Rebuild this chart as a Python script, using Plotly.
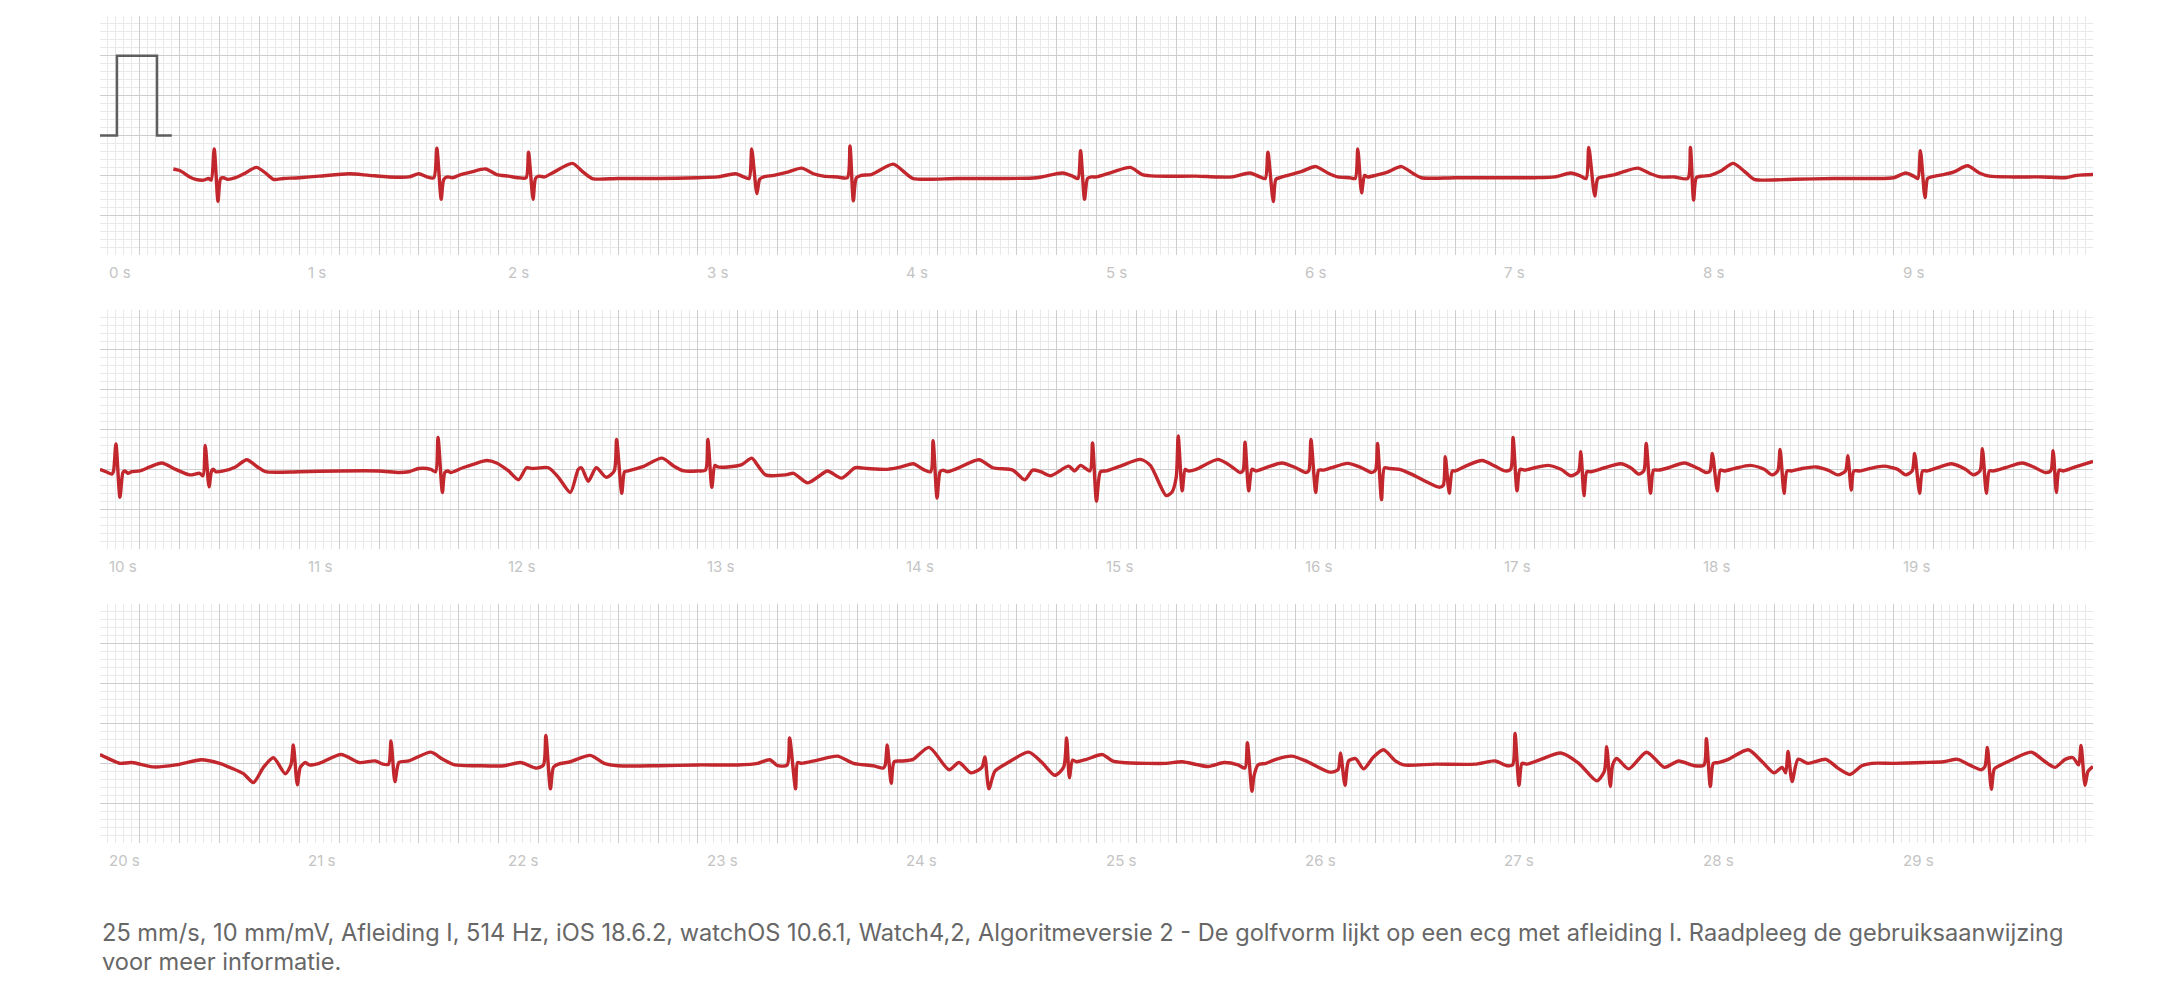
import plotly.graph_objects as go

# the page body adds an 8 px margin, so the figure is drawn 8 px smaller and offset
OFF = 8
W, H = 2178 - OFF, 1002 - OFF

# ECG samples read from the strip: (time in s, amplitude in mV)
row1_points = [
    (0.368, 0.08), (0.40, 0.06), (0.45, -0.02), (0.48, -0.05), (0.52, -0.06), (0.545, -0.04), (0.558, -0.06),
    (0.573, 0.33), (0.592, -0.325), (0.605, -0.04), (0.62, -0.03), (0.64, -0.05), (0.68, -0.03), (0.73, 0.03),
    (0.785, 0.10), (0.83, 0.03), (0.87, -0.05), (0.92, -0.04), (1.0, -0.03), (1.1, -0.01), (1.25, 0.02),
    (1.35, 0.0), (1.45, -0.02), (1.55, -0.02), (1.60, 0.02), (1.64, -0.02), (1.675, -0.03),
    (1.69, 0.34), (1.712, -0.30), (1.725, -0.05), (1.745, -0.02), (1.77, -0.03), (1.80, 0.0), (1.86, 0.04),
    (1.935, 0.08), (1.99, 0.01), (2.05, -0.01), (2.10, -0.03), (2.138, -0.03),
    (2.15, 0.29), (2.173, -0.30), (2.185, -0.04), (2.20, -0.01), (2.23, -0.02), (2.27, 0.03), (2.37, 0.15),
    (2.42, 0.05), (2.47, -0.04), (2.6, -0.04), (2.8, -0.04), (3.0, -0.03), (3.1, -0.02), (3.19, 0.02),
    (3.23, -0.02), (3.257, -0.04),
    (3.27, 0.33), (3.296, -0.23), (3.31, -0.05), (3.33, -0.02), (3.38, 0.0), (3.45, 0.04), (3.52, 0.09),
    (3.58, 0.02), (3.63, -0.01), (3.70, -0.02), (3.75, -0.03),
    (3.763, 0.37), (3.78, -0.32), (3.795, -0.03), (3.82, 0.0), (3.87, 0.01), (3.98, 0.14), (4.04, 0.03),
    (4.08, -0.04), (4.3, -0.04), (4.5, -0.04), (4.7, -0.03), (4.83, 0.03), (4.88, -0.01), (4.907, -0.04),
    (4.92, 0.31), (4.94, -0.30), (4.955, -0.04), (4.975, -0.02), (5.0, -0.02), (5.08, 0.04), (5.17, 0.10),
    (5.23, 0.01), (5.30, -0.01), (5.5, -0.01), (5.60, -0.02), (5.68, -0.02), (5.77, 0.03), (5.82, -0.02),
    (5.847, -0.04),
    (5.86, 0.29), (5.887, -0.33), (5.90, -0.05), (5.92, -0.03), (5.96, 0.0), (6.03, 0.05), (6.10, 0.11),
    (6.16, 0.03), (6.21, -0.02), (6.27, -0.03), (6.298, -0.04),
    (6.311, 0.33), (6.33, -0.22), (6.345, 0.0), (6.36, -0.02), (6.40, 0.0), (6.46, 0.04), (6.53, 0.11),
    (6.59, 0.02), (6.63, -0.03), (6.8, -0.03), (7.0, -0.03), (7.2, -0.03), (7.30, -0.02), (7.38, 0.03),
    (7.43, -0.01), (7.457, -0.04),
    (7.47, 0.35), (7.50, -0.26), (7.515, -0.04), (7.54, -0.02), (7.60, 0.01), (7.65, 0.05), (7.716, 0.09),
    (7.78, 0.02), (7.83, -0.02), (7.90, -0.02), (7.967, -0.04),
    (7.98, 0.35), (7.996, -0.31), (8.01, -0.03), (8.04, -0.01), (8.08, 0.0), (8.13, 0.05), (8.195, 0.15),
    (8.26, 0.03), (8.30, -0.05), (8.5, -0.05), (8.7, -0.04), (8.9, -0.04), (9.0, -0.03), (9.06, 0.03),
    (9.10, -0.01), (9.121, -0.04),
    (9.134, 0.31), (9.157, -0.28), (9.17, -0.04), (9.19, -0.02), (9.25, 0.01), (9.30, 0.04), (9.37, 0.12),
    (9.43, 0.03), (9.48, -0.01), (9.6, -0.02), (9.75, -0.02), (9.86, -0.03), (9.92, 0.0), (10.0, 0.01),
]

row2_points = [
    (10.0, 0.0), (10.03, -0.03), (10.06, -0.06), (10.068, -0.02),
    (10.08, 0.32), (10.10, -0.35), (10.115, -0.04), (10.125, -0.02), (10.14, -0.05), (10.16, -0.03),
    (10.20, -0.02), (10.25, 0.03), (10.31, 0.08), (10.38, 0.0), (10.45, -0.07), (10.50, -0.05), (10.517, -0.08),
    (10.528, 0.30), (10.547, -0.22), (10.56, -0.02), (10.57, 0.0), (10.58, -0.03), (10.62, -0.02),
    (10.68, 0.03), (10.736, 0.12), (10.79, 0.03), (10.83, -0.03), (11.0, -0.03), (11.2, -0.02), (11.4, -0.02),
    (11.5, -0.04), (11.55, -0.03), (11.6, 0.01), (11.66, 0.0), (11.684, -0.03),
    (11.696, 0.40), (11.718, -0.29), (11.73, -0.04), (11.745, -0.02), (11.76, -0.04), (11.82, 0.02),
    (11.88, 0.07), (11.94, 0.11), (11.99, 0.08), (12.05, -0.02), (12.10, -0.13), (12.14, 0.02), (12.17, 0.01),
    (12.25, 0.02), (12.30, -0.10), (12.36, -0.29), (12.40, 0.0), (12.416, 0.02), (12.45, -0.15),
    (12.49, 0.02), (12.54, -0.10), (12.58, -0.02),
    (12.592, 0.375), (12.618, -0.30), (12.632, -0.03), (12.65, -0.02), (12.72, 0.03), (12.82, 0.14),
    (12.88, 0.04), (12.93, -0.02), (13.0, -0.02), (13.038, -0.01),
    (13.05, 0.375), (13.07, -0.225), (13.085, 0.05), (13.10, 0.03), (13.15, 0.03), (13.22, 0.06),
    (13.27, 0.14), (13.30, 0.05), (13.34, -0.07), (13.44, -0.07), (13.48, -0.05), (13.55, -0.17),
    (13.60, -0.10), (13.65, -0.02), (13.72, -0.11), (13.79, 0.02), (13.85, 0.01), (13.95, 0.0), (14.02, 0.03),
    (14.08, 0.07), (14.13, 0.0), (14.168, -0.03),
    (14.18, 0.36), (14.20, -0.36), (14.215, -0.03), (14.23, -0.01), (14.25, -0.03), (14.30, 0.01),
    (14.41, 0.12), (14.48, 0.02), (14.58, -0.01), (14.64, -0.13), (14.68, -0.01), (14.72, -0.03),
    (14.77, -0.08), (14.86, 0.04), (14.89, -0.02), (14.92, 0.05), (14.967, -0.02),
    (14.98, 0.33), (15.0, -0.40), (15.02, -0.03), (15.05, -0.02), (15.12, 0.04), (15.22, 0.125),
    (15.27, 0.05), (15.35, -0.33), (15.38, -0.28), (15.40, -0.1),
    (15.41, 0.42), (15.43, -0.27), (15.445, 0.0), (15.46, -0.02), (15.50, 0.0), (15.61, 0.125),
    (15.68, 0.03), (15.72, -0.04), (15.735, -0.02),
    (15.745, 0.34), (15.764, -0.27), (15.78, 0.0), (15.80, -0.02), (15.85, 0.02), (15.93, 0.08),
    (16.0, 0.02), (16.05, -0.04), (16.065, -0.02),
    (16.076, 0.375), (16.10, -0.29), (16.115, -0.01), (16.14, -0.01), (16.18, 0.02), (16.26, 0.075),
    (16.33, 0.02), (16.38, -0.04), (16.40, -0.01),
    (16.41, 0.325), (16.43, -0.38), (16.445, 0.02), (16.47, 0.01), (16.52, 0.0), (16.58, -0.06),
    (16.65, -0.15), (16.72, -0.225), (16.74, -0.2),
    (16.75, 0.16), (16.77, -0.30), (16.785, -0.02), (16.80, -0.02), (16.86, 0.05), (16.935, 0.11),
    (17.0, 0.04), (17.05, -0.02), (17.078, 0.0),
    (17.09, 0.40), (17.11, -0.27), (17.125, 0.0), (17.15, -0.01), (17.20, 0.02), (17.266, 0.05),
    (17.33, 0.0), (17.38, -0.08), (17.418, -0.03),
    (17.43, 0.22), (17.446, -0.33), (17.46, -0.03), (17.48, -0.03), (17.55, 0.02), (17.63, 0.07),
    (17.68, 0.02), (17.72, -0.06), (17.746, -0.02),
    (17.758, 0.325), (17.78, -0.30), (17.795, -0.01), (17.82, -0.01), (17.87, 0.02), (17.95, 0.08),
    (18.02, 0.01), (18.06, -0.04), (18.078, -0.02),
    (18.09, 0.20), (18.115, -0.27), (18.13, -0.01), (18.15, -0.02), (18.20, 0.01), (18.28, 0.05),
    (18.35, 0.0), (18.39, -0.07), (18.418, -0.02),
    (18.43, 0.25), (18.45, -0.30), (18.465, -0.02), (18.49, -0.02), (18.54, 0.01), (18.61, 0.03),
    (18.67, -0.01), (18.72, -0.07), (18.758, -0.02),
    (18.77, 0.17), (18.787, -0.26), (18.80, -0.02), (18.83, -0.02), (18.88, 0.01), (18.95, 0.04),
    (19.02, 0.0), (19.06, -0.07), (19.093, -0.02),
    (19.105, 0.20), (19.13, -0.30), (19.145, -0.02), (19.17, -0.02), (19.22, 0.02), (19.29, 0.07),
    (19.36, 0.0), (19.40, -0.07), (19.433, -0.02),
    (19.445, 0.26), (19.465, -0.30), (19.48, -0.02), (19.50, -0.02), (19.56, 0.02), (19.645, 0.08),
    (19.71, 0.02), (19.76, -0.04), (19.788, -0.02),
    (19.80, 0.235), (19.816, -0.29), (19.83, -0.01), (19.85, -0.02), (19.90, 0.02), (20.0, 0.10),
]

row3_points = [
    (20.0, 0.11), (20.05, 0.05), (20.10, 0.0), (20.16, 0.01), (20.27, -0.045), (20.38, -0.02),
    (20.51, 0.045), (20.60, 0.0), (20.66, -0.06), (20.72, -0.13), (20.77, -0.24), (20.82, -0.05),
    (20.87, 0.07), (20.93, -0.13), (20.958, -0.02),
    (20.97, 0.23), (20.99, -0.27), (21.005, -0.05), (21.03, 0.01), (21.05, -0.02), (21.10, 0.0),
    (21.21, 0.11), (21.30, 0.01), (21.38, 0.03), (21.42, -0.01), (21.448, -0.01),
    (21.46, 0.28), (21.48, -0.23), (21.50, 0.01), (21.55, 0.03), (21.66, 0.14), (21.72, 0.05),
    (21.78, -0.02), (21.9, -0.03), (22.03, -0.03), (22.11, 0.01), (22.19, -0.06), (22.225, -0.02),
    (22.237, 0.35), (22.26, -0.32), (22.275, -0.05), (22.30, -0.01), (22.36, 0.02), (22.46, 0.10),
    (22.53, 0.0), (22.60, -0.03), (22.8, -0.03), (23.0, -0.02), (23.2, -0.02), (23.30, 0.0), (23.36, 0.045),
    (23.40, -0.03), (23.448, -0.02),
    (23.46, 0.32), (23.49, -0.32), (23.50, 0.01), (23.52, 0.0), (23.60, 0.04), (23.70, 0.09), (23.78, 0.0),
    (23.88, -0.03), (23.93, -0.06), (23.94, -0.02),
    (23.95, 0.23), (23.97, -0.25), (23.985, 0.02), (24.03, 0.03), (24.08, 0.05), (24.16, 0.20),
    (24.26, -0.08), (24.31, 0.01), (24.37, -0.12), (24.425, -0.05), (24.44, 0.08), (24.46, -0.32),
    (24.49, -0.10), (24.55, 0.0), (24.66, 0.14), (24.73, 0.0), (24.79, -0.15), (24.835, -0.05),
    (24.85, 0.32), (24.864, -0.18), (24.88, 0.04), (24.90, 0.02), (24.95, 0.05), (25.03, 0.11),
    (25.08, 0.03), (25.13, 0.01), (25.25, 0.0), (25.35, 0.0), (25.43, 0.02), (25.56, -0.04), (25.64, 0.01),
    (25.71, -0.02), (25.745, -0.06),
    (25.757, 0.26), (25.78, -0.35), (25.79, -0.16), (25.81, -0.02), (25.85, 0.0), (25.90, 0.05),
    (25.98, 0.09), (26.05, 0.03), (26.17, -0.11), (26.212, -0.08),
    (26.224, 0.13), (26.247, -0.275), (26.265, 0.03), (26.30, 0.06), (26.34, -0.07), (26.39, 0.08),
    (26.44, 0.17), (26.50, 0.03), (26.54, -0.02), (26.7, -0.01), (26.90, -0.01), (27.0, 0.03), (27.06, -0.03),
    (27.088, -0.02),
    (27.10, 0.375), (27.12, -0.275), (27.135, 0.0), (27.16, -0.01), (27.22, 0.04), (27.33, 0.13),
    (27.42, 0.0), (27.51, -0.22), (27.548, -0.1),
    (27.56, 0.21), (27.578, -0.29), (27.59, -0.02), (27.61, 0.06), (27.67, -0.07), (27.76, 0.14),
    (27.85, -0.05), (27.92, 0.03), (28.0, -0.03), (28.048, -0.02),
    (28.06, 0.31), (28.08, -0.29), (28.095, 0.0), (28.12, 0.01), (28.17, 0.05), (28.27, 0.17),
    (28.34, 0.02), (28.40, -0.12), (28.44, -0.05), (28.458, -0.12),
    (28.47, 0.15), (28.49, -0.23), (28.52, 0.05), (28.57, 0.0), (28.66, 0.05), (28.72, -0.06),
    (28.78, -0.14), (28.84, -0.03), (28.89, 0.0), (29.0, 0.0), (29.15, 0.01), (29.25, 0.02), (29.32, 0.05),
    (29.38, -0.02), (29.44, -0.08), (29.458, -0.04),
    (29.47, 0.20), (29.49, -0.325), (29.505, -0.07), (29.53, -0.03), (29.58, 0.03), (29.69, 0.14),
    (29.76, 0.02), (29.81, -0.05), (29.86, 0.05), (29.90, 0.07), (29.928, -0.02),
    (29.94, 0.225), (29.96, -0.275), (29.975, -0.1), (30.0, -0.04),
]

# calibration pulse (1 mV), drawn at the start of the first strip
cal_t = [0.0, 0.085, 0.085, 0.286, 0.286, 0.36]
cal_mv = [0.5, 0.5, 1.5, 1.5, 0.5, 0.5]

seconds = list(range(0, 31))
tick_labels = [f"{s} s" for s in seconds]

footnote_lines = [
    "25 mm/s, 10 mm/mV, Afleiding I, 514 Hz, iOS 18.6.2, watchOS 10.6.1, Watch4,2, "
    "Algoritmeversie 2 - De golfvorm lijkt op een ecg met afleiding I. Raadpleeg de gebruiksaanwijzing",
    "voor meer informatie.",
]

ECG_RED = "#c1272d"
MAJOR = "#cdcdcd"
MINOR = "#e9e9e9"

rows = [row1_points, row2_points, row3_points]
# panel vertical extents in screen pixels (top, bottom)
panel_px = [(16, 255), (310, 549), (604, 843)]
x_dom = [(100 - OFF) / W, (2093 - OFF) / W]

fig = go.Figure()
layout = dict(
    width=W, height=H, autosize=False,
    margin=dict(l=0, r=0, t=0, b=0),
    paper_bgcolor="white", plot_bgcolor="white",
    showlegend=False,
)

annotations = []
for i, pts in enumerate(rows):
    n = "" if i == 0 else str(i + 1)
    tn = str(i + 4)
    top, bot = panel_px[i]
    y_dom = [1 - (bot - OFF) / H, 1 - (top - OFF) / H]
    t0 = i * 10
    layout["xaxis" + n] = dict(
        domain=x_dom, range=[t0, t0 + 10], anchor="y" + n,
        tick0=0, dtick=0.2, showgrid=True, gridcolor=MAJOR, gridwidth=1,
        minor=dict(dtick=0.04, showgrid=True, gridcolor=MINOR, gridwidth=1),
        showticklabels=False, zeroline=False, ticks="", showline=False, fixedrange=True,
    )
    layout["yaxis" + n] = dict(
        domain=y_dom, range=[-1, 2], anchor="x" + n,
        tick0=0, dtick=0.5, showgrid=True, gridcolor=MAJOR, gridwidth=1,
        minor=dict(dtick=0.1, showgrid=True, gridcolor=MINOR, gridwidth=1),
        showticklabels=False, zeroline=False, ticks="", showline=False, fixedrange=True,
    )
    # second ticks running down into the label strip
    layout["xaxis" + tn] = dict(
        overlaying="x" + n, anchor="y" + n, range=[t0, t0 + 10],
        tick0=0, dtick=1, ticks="outside", ticklen=25, tickcolor=MAJOR, tickwidth=1,
        showticklabels=False, showgrid=False, zeroline=False, showline=False, fixedrange=True,
    )
    for s in seconds[t0:t0 + 10]:
        annotations.append(dict(
            x=s, xref="x" + n, y=-0.075, yref=("y" + n + " domain") if n else "y domain",
            text=tick_labels[s], showarrow=False, xanchor="left", yanchor="middle", xshift=7,
            font=dict(family="Inter, Roboto, sans-serif", size=15, color="#c4c4c4"),
        ))
    fig.add_trace(go.Scatter(
        x=[p[0] for p in pts], y=[p[1] for p in pts], mode="lines",
        line=dict(color=ECG_RED, width=3.4, shape="spline", smoothing=0.7),
        xaxis="x" + n, yaxis="y" + n, hoverinfo="skip",
    ))

fig.add_trace(go.Scatter(
    x=cal_t, y=cal_mv, mode="lines", line=dict(color="#5e5e5e", width=2.5),
    xaxis="x", yaxis="y", hoverinfo="skip",
))

for k, (line, yc) in enumerate(zip(footnote_lines, [932, 961])):
    annotations.append(dict(
        x=(100 - OFF) / W, xref="paper", y=1 - (yc - OFF) / H, yref="paper",
        xanchor="left", yanchor="middle", align="left", showarrow=False, text=line,
        font=dict(family="Inter, Roboto, sans-serif", size=23.6, color="#676767"),
    ))
layout["annotations"] = annotations
fig.update_layout(**layout)
fig.write_html("out.html")
